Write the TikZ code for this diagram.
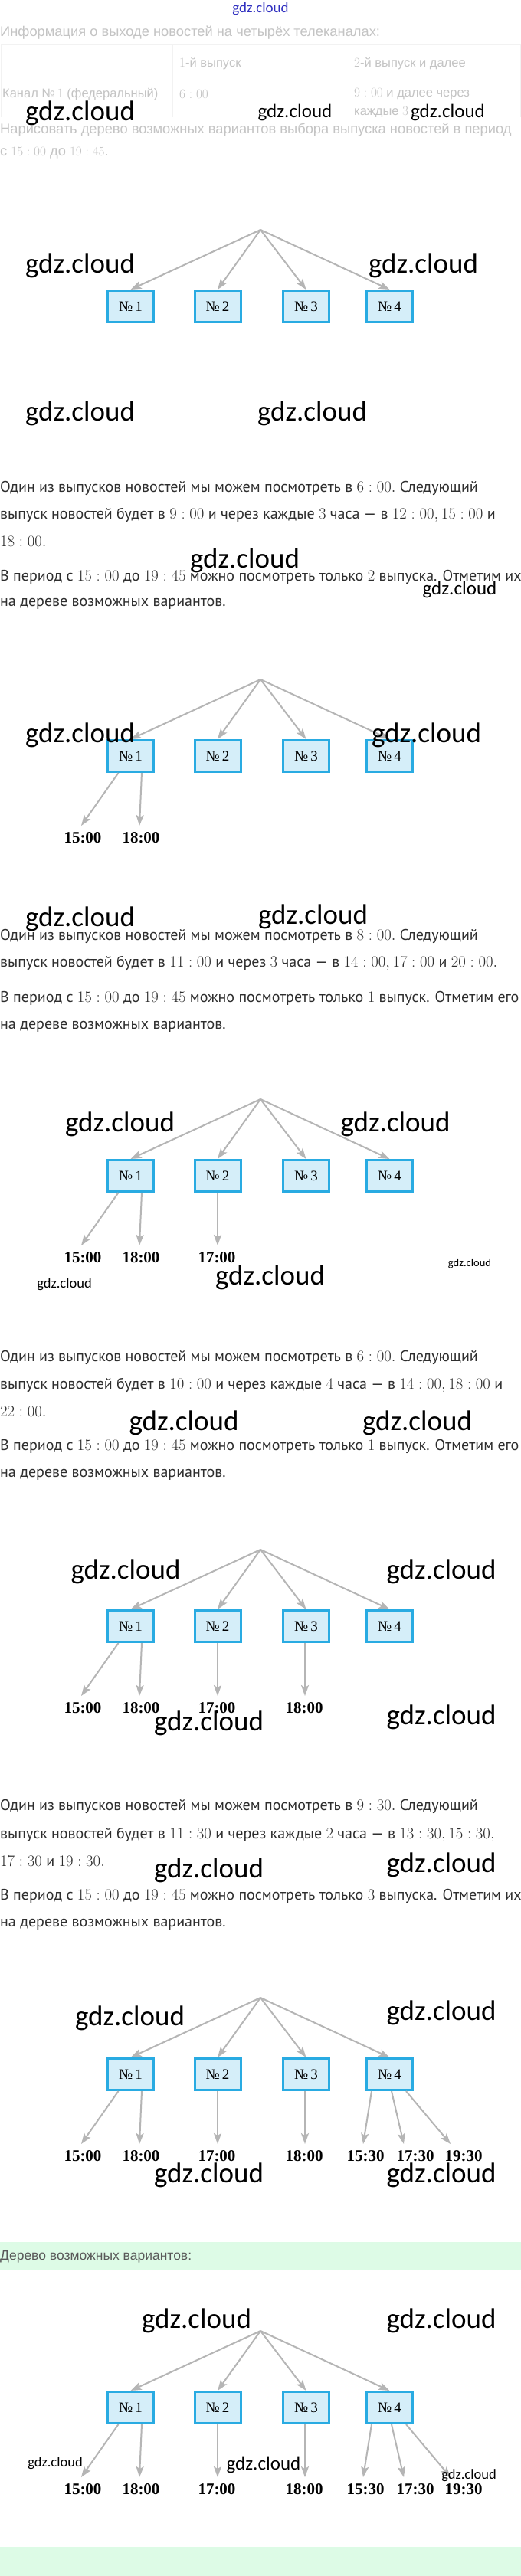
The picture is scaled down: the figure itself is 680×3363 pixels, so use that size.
\documentclass[tikz,border=0pt]{standalone}
\usepackage{fontspec}
\setmainfont{PT Sans}
\newfontfamily\serifl{Liberation Serif}
\newfontfamily\arialf{Liberation Sans}
\newfontfamily\wmf{Carlito}
\usetikzlibrary{arrows.meta,calc}
\definecolor{arrowgray}{HTML}{B5B5B5}
\definecolor{boxblue}{HTML}{29ABE2}
\definecolor{boxfill}{HTML}{D5EEF9}
\definecolor{faded}{HTML}{C4C4C4}
\definecolor{bodytxt}{HTML}{2E2E2E}
\definecolor{mint}{HTML}{DDFBE6}
\definecolor{wmblue}{HTML}{3030C0}
\definecolor{tblline}{HTML}{F2F2F2}
\newcommand\chans[2]{%
  \def\ry{#2}%
  \coordinate (#1r) at (340,#2);
  \foreach \i/\x in {1/170.5,2/284,3/399.5,4/508.5}{
    \node[chan] (#1b\i) at (\x,#2+100) {№\,\i};
    \draw[conn] (#1r) -- (#1b\i.north);
  }%
}
\newcommand\kid[7]{%
  \node[tlbl] (#1#4) at (#5,\ry+207) {#7};
  \draw[conn] ($(#1b#2.south)+(#3,0)$) -- ($(#1#4)+(#6,-16)$);
}
\begin{document}
\begin{tikzpicture}[x=1pt,y=-1pt,
  chan/.style={draw=boxblue, line width=3pt, fill=boxfill, minimum width=60pt, minimum height=41pt, inner sep=0pt, font=\serifl\fontsize{19}{19}\selectfont},
  conn/.style={draw=arrowgray, line width=2pt, -{Stealth[length=14pt,width=10pt,inset=3pt]}},
  tlbl/.style={inner sep=0pt, font=\serifl\bfseries\fontsize{21}{21}\selectfont},
  body/.style={anchor=west, inner sep=0pt, text=bodytxt, font=\fontsize{20}{22}\selectfont},
  fade/.style={anchor=west, inner sep=0pt, text=faded, font=\arialf\fontsize{18.3}{20}\selectfont},
  fadet/.style={anchor=west, inner sep=0pt, text=faded, font=\arialf\fontsize{16.5}{19}\selectfont},
  wm/.style={inner sep=0pt, font=\wmf\fontsize{#1}{#1}\selectfont}]
\useasboundingbox (0,0) rectangle (680,3363);
\fill[white] (0,0) rectangle (680,3363);
% green bands
\fill[mint] (0,2927) rectangle (680,2963);
\fill[mint] (0,3325) rectangle (680,3363);
\node[anchor=west, inner sep=0pt, text=black!65, font=\arialf\fontsize{17.5}{20}\selectfont] (res) at (0,2946) {Дерево возможных вариантов:};

% header
\node[fade] (h1) at (0,43) {Информация о выходе новостей на четырёх телеканалах:};
\begin{scope}
\clip (0,0) rectangle (680,152);
\draw[tblline, line width=1pt] (1,58) rectangle (679,170);
\draw[tblline, line width=1pt] (225,58) -- (225,170) (451,58) -- (451,170);
\node[fadet] (h7) at (462,147) {каждые $3$};
\end{scope}
\node[fadet] (h2) at (234,83) {$1$-й выпуск};
\node[fadet] (h3) at (462,83) {$2$-й выпуск и далее};
\node[fadet] (h4) at (3,123) {Канал №\,$1$ (федеральный)};
\node[fadet] (h5) at (234,123) {$6:00$};
\node[fadet] (h6) at (462,123) {$9:00$ и далее через};
\node[fade] (h8) at (0,170) {Нарисовать дерево возможных вариантов выбора выпуска новостей в период};
\node[fade] (h9) at (0,200) {с $15:00$ до $19:45$.};

% paragraph 1
\node[body] (p1a) at (0,637) {Один из выпусков новостей мы можем посмотреть в $6:00.$ Следующий};
\node[body] (p1b) at (0,672) {выпуск новостей будет в $9:00$ и через каждые $3$ часа — в $12:00, 15:00$ и};
\node[body] (p1c) at (0,707) {$18:00.$};
\node[body] (p1d) at (0,753) {В период с $15:00$ до $19:45$ можно посмотреть только $2$ выпуска. Отметим их};
\node[body] (p1e) at (0,788) {на дереве возможных вариантов.};
% paragraph 2
\node[body] (p2a) at (0,1222) {Один из выпусков новостей мы можем посмотреть в $8:00.$ Следующий};
\node[body] (p2b) at (0,1257) {выпуск новостей будет в $11:00$ и через $3$ часа — в $14:00, 17:00$ и $20:00.$};
\node[body] (p2d) at (0,1303) {В период с $15:00$ до $19:45$ можно посмотреть только $1$ выпуск. Отметим его};
\node[body] (p2e) at (0,1340) {на дереве возможных вариантов.};
% paragraph 3
\node[body] (p3a) at (0,1772) {Один из выпусков новостей мы можем посмотреть в $6:00.$ Следующий};
\node[body] (p3b) at (0,1808) {выпуск новостей будет в $10:00$ и через каждые $4$ часа — в $14:00, 18:00$ и};
\node[body] (p3c) at (0,1843) {$22:00.$};
\node[body] (p3d) at (0,1888) {В период с $15:00$ до $19:45$ можно посмотреть только $1$ выпуск. Отметим его};
\node[body] (p3e) at (0,1925) {на дереве возможных вариантов.};
% paragraph 4
\node[body] (p4a) at (0,2358) {Один из выпусков новостей мы можем посмотреть в $9:30.$ Следующий};
\node[body] (p4b) at (0,2395) {выпуск новостей будет в $11:30$ и через каждые $2$ часа — в $13:30, 15:30,$};
\node[body] (p4c) at (0,2430) {$17:30$ и $19:30.$};
\node[body] (p4d) at (0,2475) {В период с $15:00$ до $19:45$ можно посмотреть только $3$ выпуска. Отметим их};
\node[body] (p4e) at (0,2512) {на дереве возможных вариантов.};

% tree 1
\chans{tA}{300}
% tree 2
\chans{tB}{887}
\kid{tB}{1}{-16}{l1}{108}{-2}{15:00}
\kid{tB}{1}{14.5}{l2}{184}{-2}{18:00}
% tree 3
\chans{tC}{1435}
\kid{tC}{1}{-16}{l1}{108}{-2}{15:00}
\kid{tC}{1}{14.5}{l2}{184}{-2}{18:00}
\kid{tC}{2}{0}{l3}{283}{1}{17:00}
% tree 4
\chans{tD}{2023}
\kid{tD}{1}{-16}{l1}{108}{-2}{15:00}
\kid{tD}{1}{14.5}{l2}{184}{-2}{18:00}
\kid{tD}{2}{0}{l3}{283}{1}{17:00}
\kid{tD}{3}{-1.5}{l4}{397}{1}{18:00}
% tree 5
\chans{tE}{2608}
\kid{tE}{1}{-16}{l1}{108}{-2}{15:00}
\kid{tE}{1}{14.5}{l2}{184}{-2}{18:00}
\kid{tE}{2}{0}{l3}{283}{1}{17:00}
\kid{tE}{3}{-1.5}{l4}{397}{1}{18:00}
\kid{tE}{4}{-23.5}{l5}{477}{-3}{15:30}
\kid{tE}{4}{2.5}{l6}{542}{-15}{17:30}
\kid{tE}{4}{21.5}{l7}{605}{-17}{19:30}
% tree 6
\chans{tF}{3043}
\kid{tF}{1}{-16}{l1}{108}{-2}{15:00}
\kid{tF}{1}{14.5}{l2}{184}{-2}{18:00}
\kid{tF}{2}{0}{l3}{283}{1}{17:00}
\kid{tF}{3}{-1.5}{l4}{397}{1}{18:00}
\kid{tF}{4}{-23.5}{l5}{477}{-3}{15:30}
\kid{tF}{4}{2.5}{l6}{542}{-15}{17:30}
\kid{tF}{4}{21.5}{l7}{605}{-17}{19:30}

% watermarks
\node[wm=19, text=wmblue] (w0) at (340,12) {gdz.cloud};
\node[wm=37] (w1) at (104.5,148) {gdz.cloud};
\node[wm=25] (w2) at (385,147) {gdz.cloud};
\node[wm=25] (w3) at (584.5,147) {gdz.cloud};
\node[wm=37] (w4) at (104.5,347) {gdz.cloud};
\node[wm=37] (w5) at (552.5,347) {gdz.cloud};
\node[wm=37] (w6) at (104.5,540) {gdz.cloud};
\node[wm=37] (w7) at (407.5,540) {gdz.cloud};
\node[wm=37] (w8) at (319.5,732) {gdz.cloud};
\node[wm=25] (w9) at (600,770) {gdz.cloud};
\node[wm=37] (w10) at (104.5,960) {gdz.cloud};
\node[wm=37] (w11) at (556.5,960) {gdz.cloud};
\node[wm=37] (w12) at (104.5,1200) {gdz.cloud};
\node[wm=37] (w13) at (408.5,1197) {gdz.cloud};
\node[wm=37] (w14) at (156.5,1468) {gdz.cloud};
\node[wm=37] (w15) at (516,1468) {gdz.cloud};
\node[wm=37] (w16) at (352.5,1668) {gdz.cloud};
\node[wm=18.5] (w17) at (84,1677) {gdz.cloud};
\node[wm=14.5] (w18) at (613,1650) {gdz.cloud};
\node[wm=37] (w19) at (240,1858) {gdz.cloud};
\node[wm=37] (w20) at (544.5,1858) {gdz.cloud};
\node[wm=37] (w21) at (164,2052) {gdz.cloud};
\node[wm=37] (w22) at (576,2052) {gdz.cloud};
\node[wm=37] (w23) at (272.5,2250) {gdz.cloud};
\node[wm=37] (w24) at (576,2242) {gdz.cloud};
\node[wm=37] (w25) at (272.5,2442) {gdz.cloud};
\node[wm=37] (w26) at (576,2435) {gdz.cloud};
\node[wm=37] (w27) at (169.5,2635) {gdz.cloud};
\node[wm=37] (w28) at (576,2628) {gdz.cloud};
\node[wm=37] (w29) at (272.5,2840) {gdz.cloud};
\node[wm=37] (w30) at (576,2840) {gdz.cloud};
\node[wm=37] (w31) at (256.5,3030) {gdz.cloud};
\node[wm=37] (w32) at (576,3030) {gdz.cloud};
\node[wm=18.5] (w33) at (72,3216) {gdz.cloud};
\node[wm=25] (w34) at (344,3218) {gdz.cloud};
\node[wm=18.5] (w35) at (612,3232) {gdz.cloud};
\end{tikzpicture}
\end{document}
